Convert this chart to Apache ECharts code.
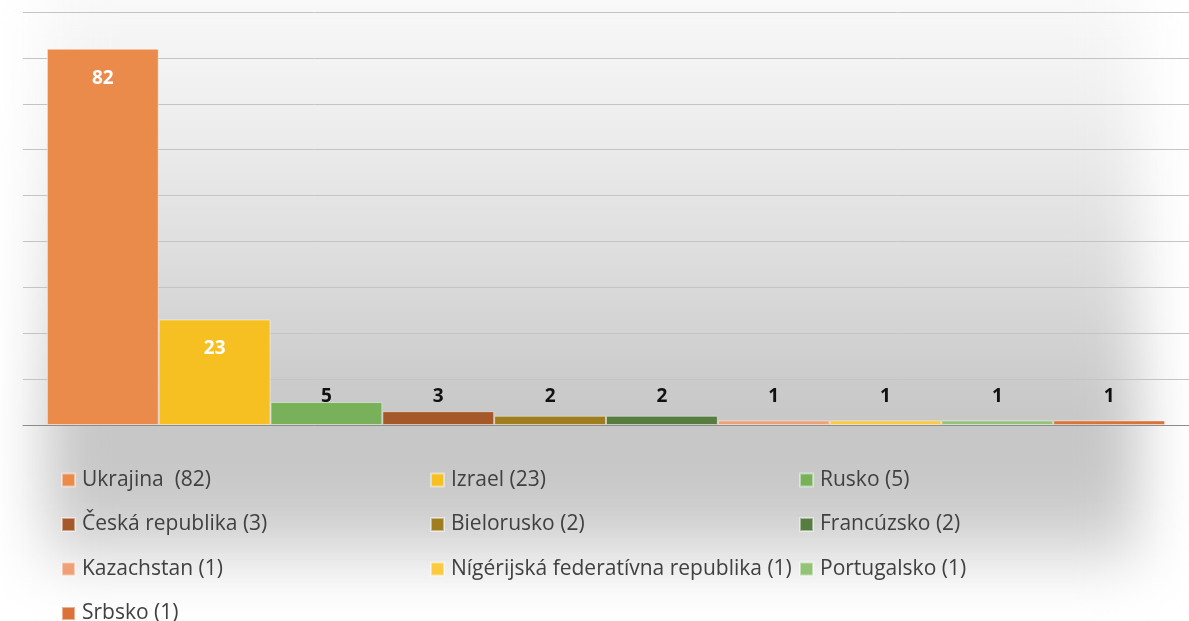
<!DOCTYPE html>
<html>
<head>
<meta charset="utf-8">
<script src="https://cdn.jsdelivr.net/npm/echarts@6/dist/echarts.min.js"></script>
<style>
    html, body{ margin: 0; padding: 0; background: #fff; overflow: hidden;}
    .wrap{ position: relative; width: 1189px; height: 621px; overflow: hidden;}
    .wrap .glow{ position: absolute; left: 45px; top: -30px; width: 1095px; height: 600px;
        background: linear-gradient(to bottom, #fbfbfb 0%, #eeeeee 25%, #dcdcdc 50%, #c6c6c6 75%, #c8c8c8 88%, #e8e8e8 100%);
        filter: blur(28px);}
    .wrap #chart{ position: absolute; left: 0; top: 0; width: 1189px; height: 621px;}
</style>
</head>
<body>
<div class="wrap">
    <div class="glow"></div>
    <div id="chart"></div>
</div>
<script>
    // krajiny a pocty
    var countries = ['Ukrajina ', 'Izrael', 'Rusko', 'Česká republika', 'Bielorusko', 'Francúzsko',
        'Kazachstan', 'Nígérijská federatívna republika', 'Portugalsko', 'Srbsko'];
    var counts = [82, 23, 5, 3, 2, 2, 1, 1, 1, 1];
    var colors = ['#EA8A4B', '#F6BF22', '#79B15A', '#A5592A', '#A07E20', '#567C40',
        '#F0A077', '#FACA40', '#94C277', '#DA733A'];
    var yTicks = [0, 10, 20, 30, 40, 50, 60, 70, 80, 90];

    var gridTop = 12, gridBottom = 196;
    var pxPerUnit = (621 - gridTop - gridBottom) / yTicks[yTicks.length - 1];
    var labelLevel = 4.2; // male stlpce maju popisky v jednej vyske

    var myChart = echarts.init(document.getElementById('chart'));

    var series = countries.map(function(name, i){
        var big = counts[i] > 10;
        return {
            name: name,
            type: 'bar',
            barGap: 0,
            barCategoryGap: '4.1%',
            data: [counts[i]],
            itemStyle: {
                color: colors[i],
                borderColor: 'rgba(255,255,255,0.45)',
                borderWidth: 1
            },
            label: {
                show: true,
                position: big ? 'insideTop' : 'top',
                distance: big ? 20 : (labelLevel - counts[i]) * pxPerUnit,
                color: big ? '#fff' : '#111',
                fontFamily: 'Open Sans',
                fontWeight: 'bold',
                fontSize: 19
            }
        };
    });

    function legendCol(names, left){
        return {
            orient: 'vertical',
            left: left,
            top: 468,
            height: 200,
            padding: 0,
            itemWidth: 13,
            itemHeight: 13,
            itemGap: 20.5,
            icon: 'rect',
            data: names,
            formatter: function(n){
                return n + ' (' + counts[countries.indexOf(n)] + ')';
            },
            textStyle: {
                color: '#404040',
                fontFamily: 'Open Sans',
                fontSize: 21,
                lineHeight: 24,
                padding: [0, 0, 0, 2]
            },
            selectedMode: false
        };
    }

    myChart.setOption({
        animation: false,
        backgroundColor: 'transparent',
        grid: {
            left: 23,
            right: 0,
            top: gridTop,
            bottom: gridBottom
        },
        legend: [
            legendCol([countries[0], countries[3], countries[6], countries[9]], 61),
            legendCol([countries[1], countries[4], countries[7]], 430),
            legendCol([countries[2], countries[5], countries[8]], 799)
        ],
        xAxis: {
            type: 'category',
            data: [''],
            axisTick: {show: false},
            axisLabel: {show: false},
            axisLine: {lineStyle: {color: '#8c8c8c', width: 1}}
        },
        yAxis: {
            type: 'value',
            min: yTicks[0],
            max: yTicks[yTicks.length - 1],
            interval: 10,
            axisLabel: {show: false},
            axisLine: {show: false},
            axisTick: {show: false},
            splitLine: {lineStyle: {color: '#c4c4c4', width: 1}}
        },
        series: series
    });
</script>
</body>
</html>
